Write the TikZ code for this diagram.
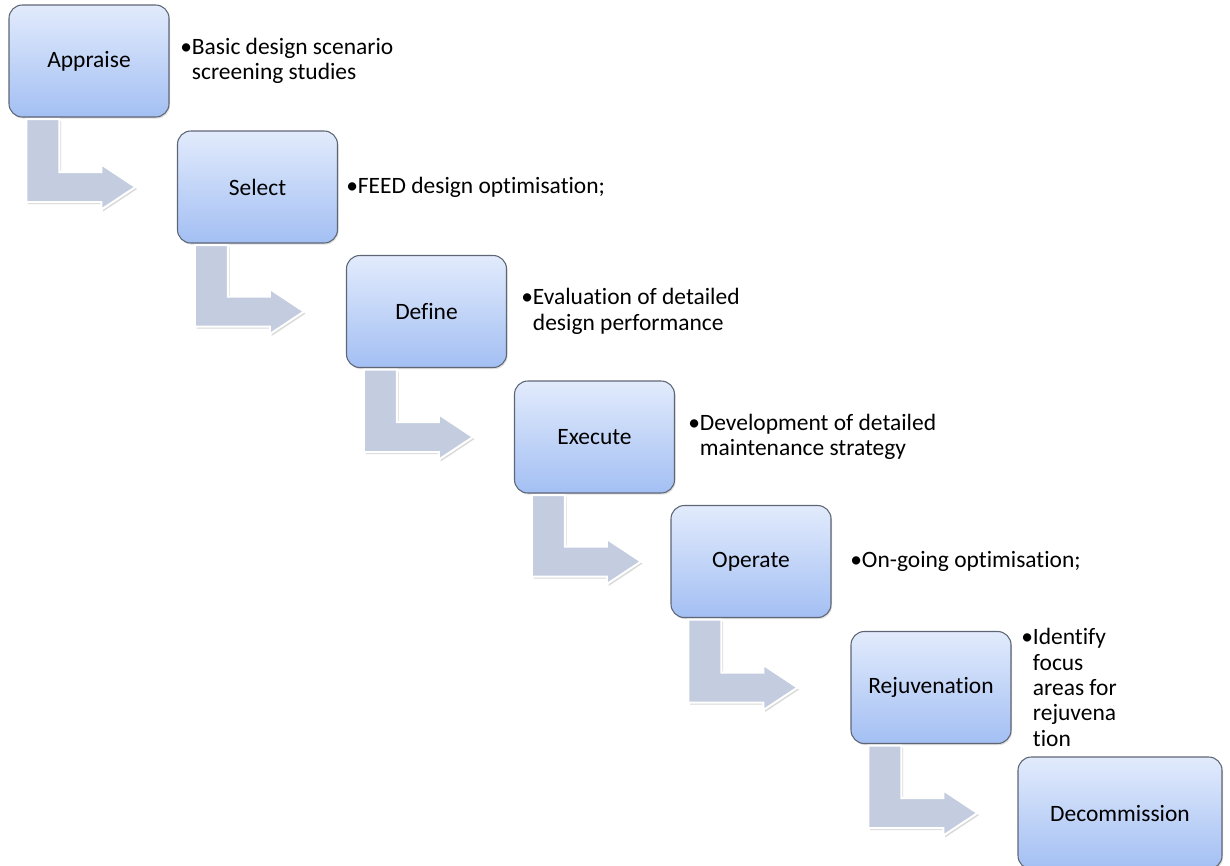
\documentclass[tikz,border=0pt]{standalone}
\usepackage{fontspec}
\setmainfont[Ligatures=NoCommon]{Carlito}
\usepackage{tikz}
\usetikzlibrary{calc,shadows}

\definecolor{boxtop}{RGB}{226,235,252}
\definecolor{boxbot}{RGB}{163,191,243}
\definecolor{boxline}{RGB}{94,102,117}
\definecolor{arrowfill}{RGB}{195,205,223}

\tikzset{
  stepbox/.style={draw=boxline, line width=0.8pt, rounded corners=10pt,
    top color=boxtop, bottom color=boxbot,
    minimum width=120pt, minimum height=84pt, inner sep=0pt,
    font=\fontsize{17.6}{19}\selectfont,
    drop shadow={opacity=0.25, shadow xshift=0.8pt, shadow yshift=-1.2pt}},
  bentarrow/.style={fill=arrowfill, draw=white, line width=1.5pt,
    drop shadow={opacity=0.3, shadow xshift=1.2pt, shadow yshift=-1.5pt}},
  note/.style={anchor=west, align=left, inner sep=0pt,
    font=\fontsize{17.6}{19}\selectfont}
}

\begin{document}
\begin{tikzpicture}[x=0.75pt,y=0.75pt,yscale=-1,xscale=1]
\useasboundingbox (0,0) rectangle (1230,865);

% step boxes
\node[stepbox] (appraise) at (89,61) {Appraise};
\node[stepbox] (select) at (257.5,187) {Select};
\node[stepbox] (define) at (426.5,311.5) {Define};
\node[stepbox] (execute) at (594.5,437) {Execute};
\node[stepbox] (operate) at (751,561.5) {Operate};
\node[stepbox] (rejuv) at (931,687.5) {Rejuvenation};
\node[stepbox, minimum width=153pt] (decomm) at (1120,813) {Decommission};

% bent arrows between steps
\foreach \src/\dst in {appraise/select, select/define, define/execute,
                       execute/operate, operate/rejuv, rejuv/decomm} {
  \coordinate (s) at ($(\src.south west)+(18,1.5)$);
  \coordinate (t) at ($(s)+(109,0)$);
  \coordinate (tip) at (t |- \dst.west);
  \filldraw[bentarrow] (s) -- ++(33,0) |- ($(tip)+(-34,-15)$) -- ++(0,-7.5)
    -- (tip) -- ++(-34,22.5) -- ++(0,-7.5) -| (s) -- cycle;
}

% notes
\node[note] (appraise-note) at (180,61) {•Basic design scenario\\\hphantom{•}screening studies};
\node[note] (select-note) at (346,187) {•FEED design optimisation;};
\node[note] (define-note) at (521,311.5) {•Evaluation of detailed\\\hphantom{•}design performance};
\node[note] (execute-note) at (688,437) {•Development of detailed\\\hphantom{•}maintenance strategy};
\node[note] (operate-note) at (850,561.5) {•On-going optimisation;};
\node[note] (rejuv-note) at (1021,687.5) {•Identify\\\hphantom{•}focus\\\hphantom{•}areas for\\\hphantom{•}rejuvena\\\hphantom{•}tion};

\end{tikzpicture}
\end{document}
